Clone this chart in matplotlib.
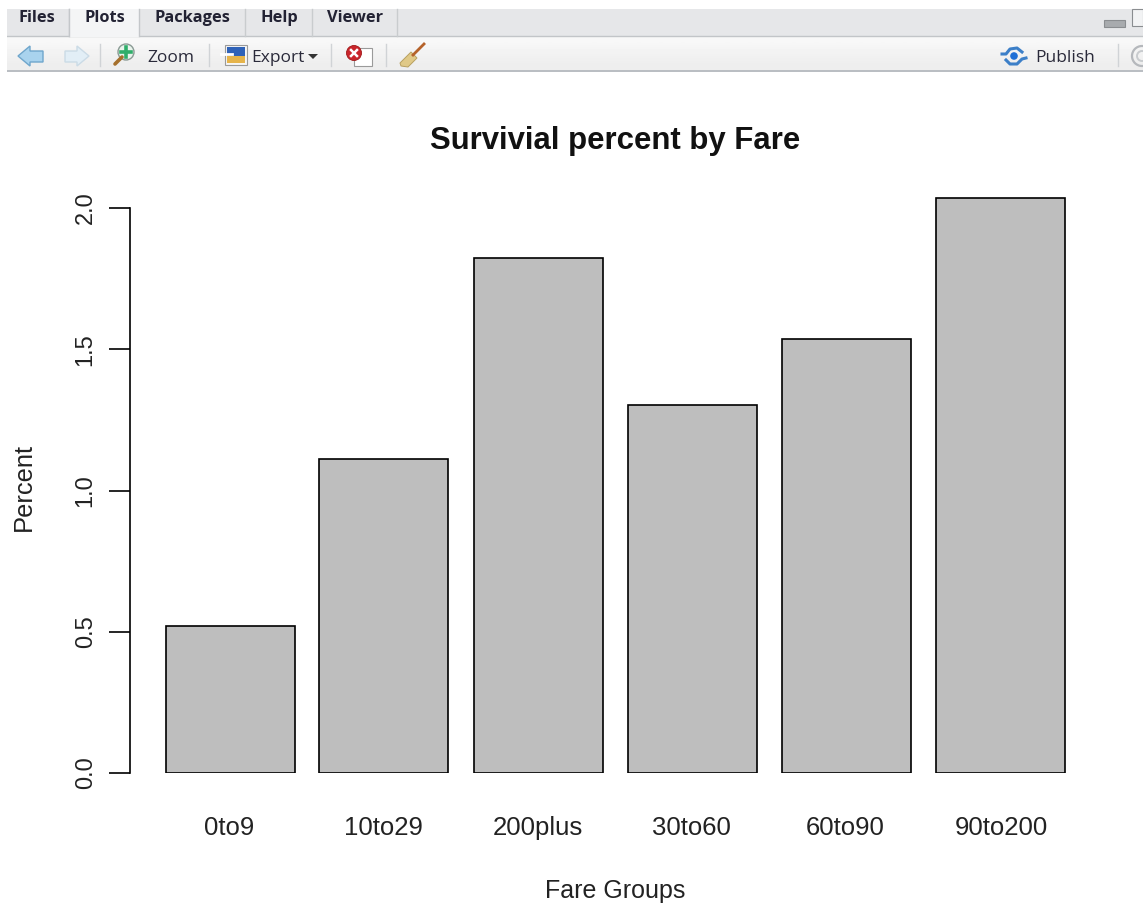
import matplotlib
matplotlib.use("Agg")
import matplotlib.pyplot as plt
from matplotlib.patches import Rectangle, Polygon, Circle

groups = ["0to9", "10to29", "200plus", "30to60", "60to90", "90to200"]
percent = [0.522, 1.111, 1.822, 1.303, 1.535, 2.035]
y_ticks = [0.0, 0.5, 1.0, 1.5, 2.0]
tabs = ["Files", "Plots", "Packages", "Help", "Viewer"]

W, H = 1143, 905
plt.rcParams['font.family'] = ['Liberation Sans', 'DejaVu Sans']

fig = plt.figure(figsize=(W / 100, H / 100), dpi=100, facecolor='white')

# plot area: pixel box of the R device region
left, right = 130, 1143
y0_px, y2_px = 773, 208
ax = fig.add_axes([left / W, 1 - y0_px / H, (right - left) / W, (y0_px - 180) / H])
px_per_unit = (y0_px - y2_px) / 2.0
ax.set_ylim(0, (y0_px - 180) / px_per_unit)
ax.set_xlim(left, right)

centers = [230.5, 384, 538.5, 692.5, 846.5, 1001]
ax.bar(centers, percent, width=129, color='#bebebe', edgecolor='black', linewidth=1.2)

for s in ['top', 'right', 'bottom']:
    ax.spines[s].set_visible(False)
ax.spines['left'].set_bounds(0, 2)
ax.spines['left'].set_linewidth(1.2)
ax.set_yticks(y_ticks)
ax.set_yticklabels([f"{v:.1f}" for v in y_ticks], rotation=90, va='center', fontsize=17, color='#222222')
ax.tick_params(axis='y', length=15, width=1.2, pad=9)
ax.set_xticks([229, 383, 537.5, 691, 845, 1001])
ax.set_xticklabels(groups, fontsize=18.5, color='#222222')
ax.tick_params(axis='x', length=0, pad=30.6)

fig.text(615 / W, 1 - 141 / H, "Survivial percent by Fare", ha='center', va='center',
         fontsize=22.4, fontweight='bold', color='#111111')
fig.text(615 / W, 1 - 890.5 / H, "Fare Groups", ha='center', va='center', fontsize=18, color='#222222')
fig.text(24 / W, 1 - 487 / H, "Percent", ha='center', va='center', rotation=90, fontsize=18.4, color='#222222')

# RStudio toolbar
ui = fig.add_axes([0, 0, 1, 1], facecolor='none')
ui.set_xlim(0, W)
ui.set_ylim(H, 0)
ui.axis('off')
ui.add_patch(Rectangle((7, 9), W, 27, color='#e6e7e9', lw=0))
ui.imshow([[0.97], [0.95], [0.93]], extent=(7, W, 71, 36), aspect='auto', cmap='gray', vmin=0, vmax=1,
          interpolation='bilinear')
ui.set_xlim(0, W)
ui.set_ylim(H, 0)
ui.plot([7, W], [71.5, 71.5], color='#b9bdc2', lw=1.4)
ui.plot([7, W], [36, 36], color='#c2c5c8', lw=1)

tab_x = [37, 105, 192, 279, 355]
tab_edges = [(7, 69), (69, 139), (139, 245), (245, 312), (312, 397)]
for name, tx, (a, b) in zip(tabs, tab_x, tab_edges):
    if name == "Plots":
        ui.add_patch(Rectangle((a, 9), b - a, 28, fc='#f4f5f6', ec='none', zorder=3))
        ui.plot([a, a], [9, 36], color='#c4c7ca', lw=1, zorder=4)
        ui.plot([b, b], [9, 36], color='#c4c7ca', lw=1, zorder=4)
    else:
        ui.plot([b, b], [9, 36], color='#c9ccce', lw=1)
    ui.text(tx, 18.5, name, ha='center', va='center', fontsize=11.8, fontweight='bold',
            family=['Open Sans', 'DejaVu Sans'], color='#222233', zorder=5)

for tx, label in [(171, "Zoom"), (278, "Export"), (1065, "Publish")]:
    ui.text(tx, 57.5, label, ha='center', va='center', fontsize=12.5,
            family=['Open Sans', 'DejaVu Sans'], color='#2a2a3a')
ui.add_patch(Polygon([(308, 54), (318, 54), (313, 59)], fc='#333333', ec='none'))

# toolbar separators
for sx in [100, 209, 331, 386, 1118]:
    ui.plot([sx, sx], [44, 66], color='#d0d3d6', lw=1)

# toolbar icons, simple shapes
ui.add_patch(Polygon([(18, 56), (30, 46), (30, 51), (43, 51), (43, 62), (30, 62), (30, 66)],
                     fc='#a9d3ee', ec='#6fa6cc', lw=1))
ui.add_patch(Polygon([(89, 56), (77, 46), (77, 51), (65, 51), (65, 62), (77, 62), (77, 66)],
                     fc='#e2eef6', ec='#cbdbe6', lw=1))
ui.plot([115, 122], [64, 57], color='#a5702c', lw=2.6, solid_capstyle='round')
ui.add_patch(Circle((126, 52), 8, fc='#e9f4ec', ec='#8a9a94', lw=1))
ui.plot([121, 131], [52, 52], color='#2fae6a', lw=2.6)
ui.plot([126, 126], [47, 57], color='#2fae6a', lw=2.6)
ui.add_patch(Rectangle((225, 45), 22, 20, fc='#f6f6f6', ec='#9a9a9a', lw=0.8))
ui.add_patch(Rectangle((227, 47), 18, 9, fc='#2f62b8', ec='none'))
ui.add_patch(Rectangle((227, 56), 18, 7, fc='#e6b44a', ec='none'))
ui.plot([221, 232], [54, 54], color='white', lw=2)
ui.add_patch(Rectangle((354, 48), 18, 18, fc='white', ec='#9a9a9a', lw=0.8))
ui.add_patch(Circle((354, 53), 7.5, fc='#c9252b', ec='#a01818', lw=0.6))
ui.plot([351, 357], [50, 56], color='white', lw=1.8)
ui.plot([351, 357], [56, 50], color='white', lw=1.8)
ui.plot([413, 424], [55, 44], color='#b5622a', lw=2)
ui.add_patch(Polygon([(411, 52), (417, 58), (408, 67), (401, 66), (400, 63)],
                     fc='#e0c987', ec='#b8a060', lw=0.7))
ui.add_patch(Circle((1014, 56), 3.8, fc='#1f6fd6', ec='none'))
ui.plot([1002, 1006, 1010, 1017, 1022], [54, 54, 49, 48, 52], color='#3c7fc8', lw=2.2)
ui.plot([1006, 1010, 1017, 1022, 1026], [60, 64, 64, 59, 58], color='#3c7fc8', lw=2.2)
ui.add_patch(Circle((1142, 56), 10, fc='none', ec='#b5b8bc', lw=1.6))
ui.add_patch(Circle((1142, 56), 5, fc='none', ec='#c8cbce', lw=1.4))
ui.add_patch(Rectangle((1104, 20), 21, 7, fc='#a8abae', ec='#8a8d90', lw=0.8))
ui.add_patch(Rectangle((1132, 9), 11, 17, fc='#f2f3f4', ec='#8a8d90', lw=0.8))
ui.add_patch(Rectangle((0, 0), 7, 80, fc='white', ec='none', zorder=6))

fig.savefig('out.png', dpi=100)
